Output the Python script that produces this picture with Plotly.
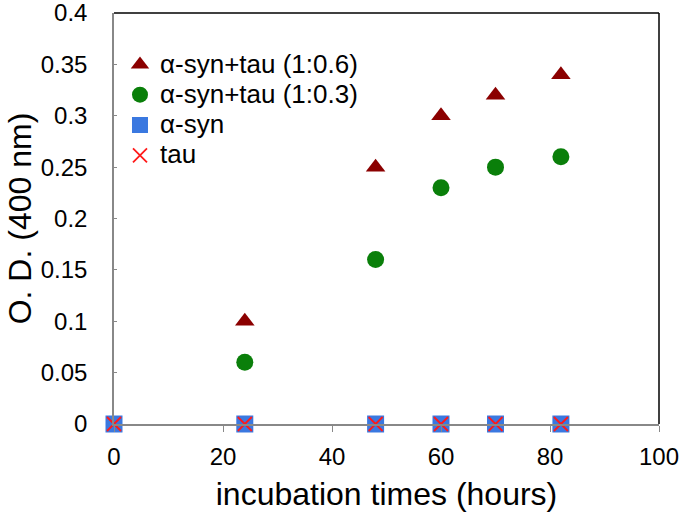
import plotly.graph_objects as go

times = [0, 24, 48, 60, 70, 82]
times_mix = [24, 48, 60, 70, 82]
od_mix_06 = [0.10, 0.25, 0.30, 0.32, 0.34]
od_mix_03 = [0.06, 0.16, 0.23, 0.25, 0.26]
od_asyn = [0, 0, 0, 0, 0, 0]
od_tau = [0, 0, 0, 0, 0, 0]

names = ["α-syn+tau (1:0.6)", "α-syn+tau (1:0.3)", "α-syn", "tau"]
x_ticks = [0, 20, 40, 60, 80, 100]
y_ticks = [0, 0.05, 0.1, 0.15, 0.2, 0.25, 0.3, 0.35, 0.4]
y_tick_text = ["0", "0.05", "0.1", "0.15", "0.2", "0.25", "0.3", "0.35", "0.4"]

FONT = "Liberation Sans, Arial, sans-serif"


def leg(name):
    return '<span style="font-size:26px">' + name + "</span>"


fig = go.Figure()
fig.add_trace(go.Scatter(x=times_mix, y=od_mix_06, mode="markers", name=leg(names[0]),
                         marker=dict(symbol="triangle-up", size=17, color="#8B0000"),
                         cliponaxis=False))
fig.add_trace(go.Scatter(x=times_mix, y=od_mix_03, mode="markers", name=leg(names[1]),
                         marker=dict(symbol="circle", size=17, color="#0A7F0A"),
                         cliponaxis=False))
fig.add_trace(go.Scatter(x=times, y=od_asyn, mode="markers", name=leg(names[2]),
                         marker=dict(symbol="square", size=17, color="#3A78E0"),
                         cliponaxis=False))
fig.add_trace(go.Scatter(x=times, y=od_tau, mode="markers", name=leg(names[3]),
                         marker=dict(symbol="x-thin", size=14, color="#FF1A1A",
                                     line=dict(color="#FF1A1A", width=1.8)),
                         cliponaxis=False))

fig.update_layout(
    width=683, height=521,
    margin=dict(l=114, r=24, t=13, b=97, autoexpand=False),
    paper_bgcolor="white", plot_bgcolor="white",
    font=dict(family=FONT, color="black", size=24),
    showlegend=True,
    legend=dict(x=0.011, y=0.924, xanchor="left", yanchor="top",
                bgcolor="rgba(0,0,0,0)", font=dict(size=21), tracegroupgap=0),
    xaxis=dict(range=[0, 100], tickvals=x_ticks, showgrid=False, zeroline=False,
               automargin=False, ticklabeloverflow="allow",
               showline=True, linecolor="#888888", linewidth=1.5,
               ticks="outside", ticklen=6, tickcolor="#888888",
               tickfont=dict(size=24), ticklabelstandoff=4,
               title=dict(text="incubation times (hours)", font=dict(size=32), standoff=14)),
    yaxis=dict(range=[0, 0.4], tickvals=y_ticks, ticktext=y_tick_text, showgrid=False,
               automargin=False, ticklabeloverflow="allow",
               zeroline=False, showline=True, linecolor="#888888", linewidth=1.5,
               ticks="inside", ticklen=3, tickcolor="#888888",
               tickfont=dict(size=24), ticklabelstandoff=20,
               title=dict(text="O. D. (400 nm)", font=dict(size=32), standoff=0)),
    shapes=[
        dict(type="line", xref="paper", yref="paper", x0=0, x1=1, y0=1, y1=1,
             line=dict(color="black", width=1.5)),
        dict(type="line", xref="paper", yref="paper", x0=1, x1=1, y0=0, y1=1,
             line=dict(color="black", width=1.5)),
    ],
)

fig.write_html("out.html", config={"displayModeBar": False},
               post_script="document.body.style.margin='0px';")
